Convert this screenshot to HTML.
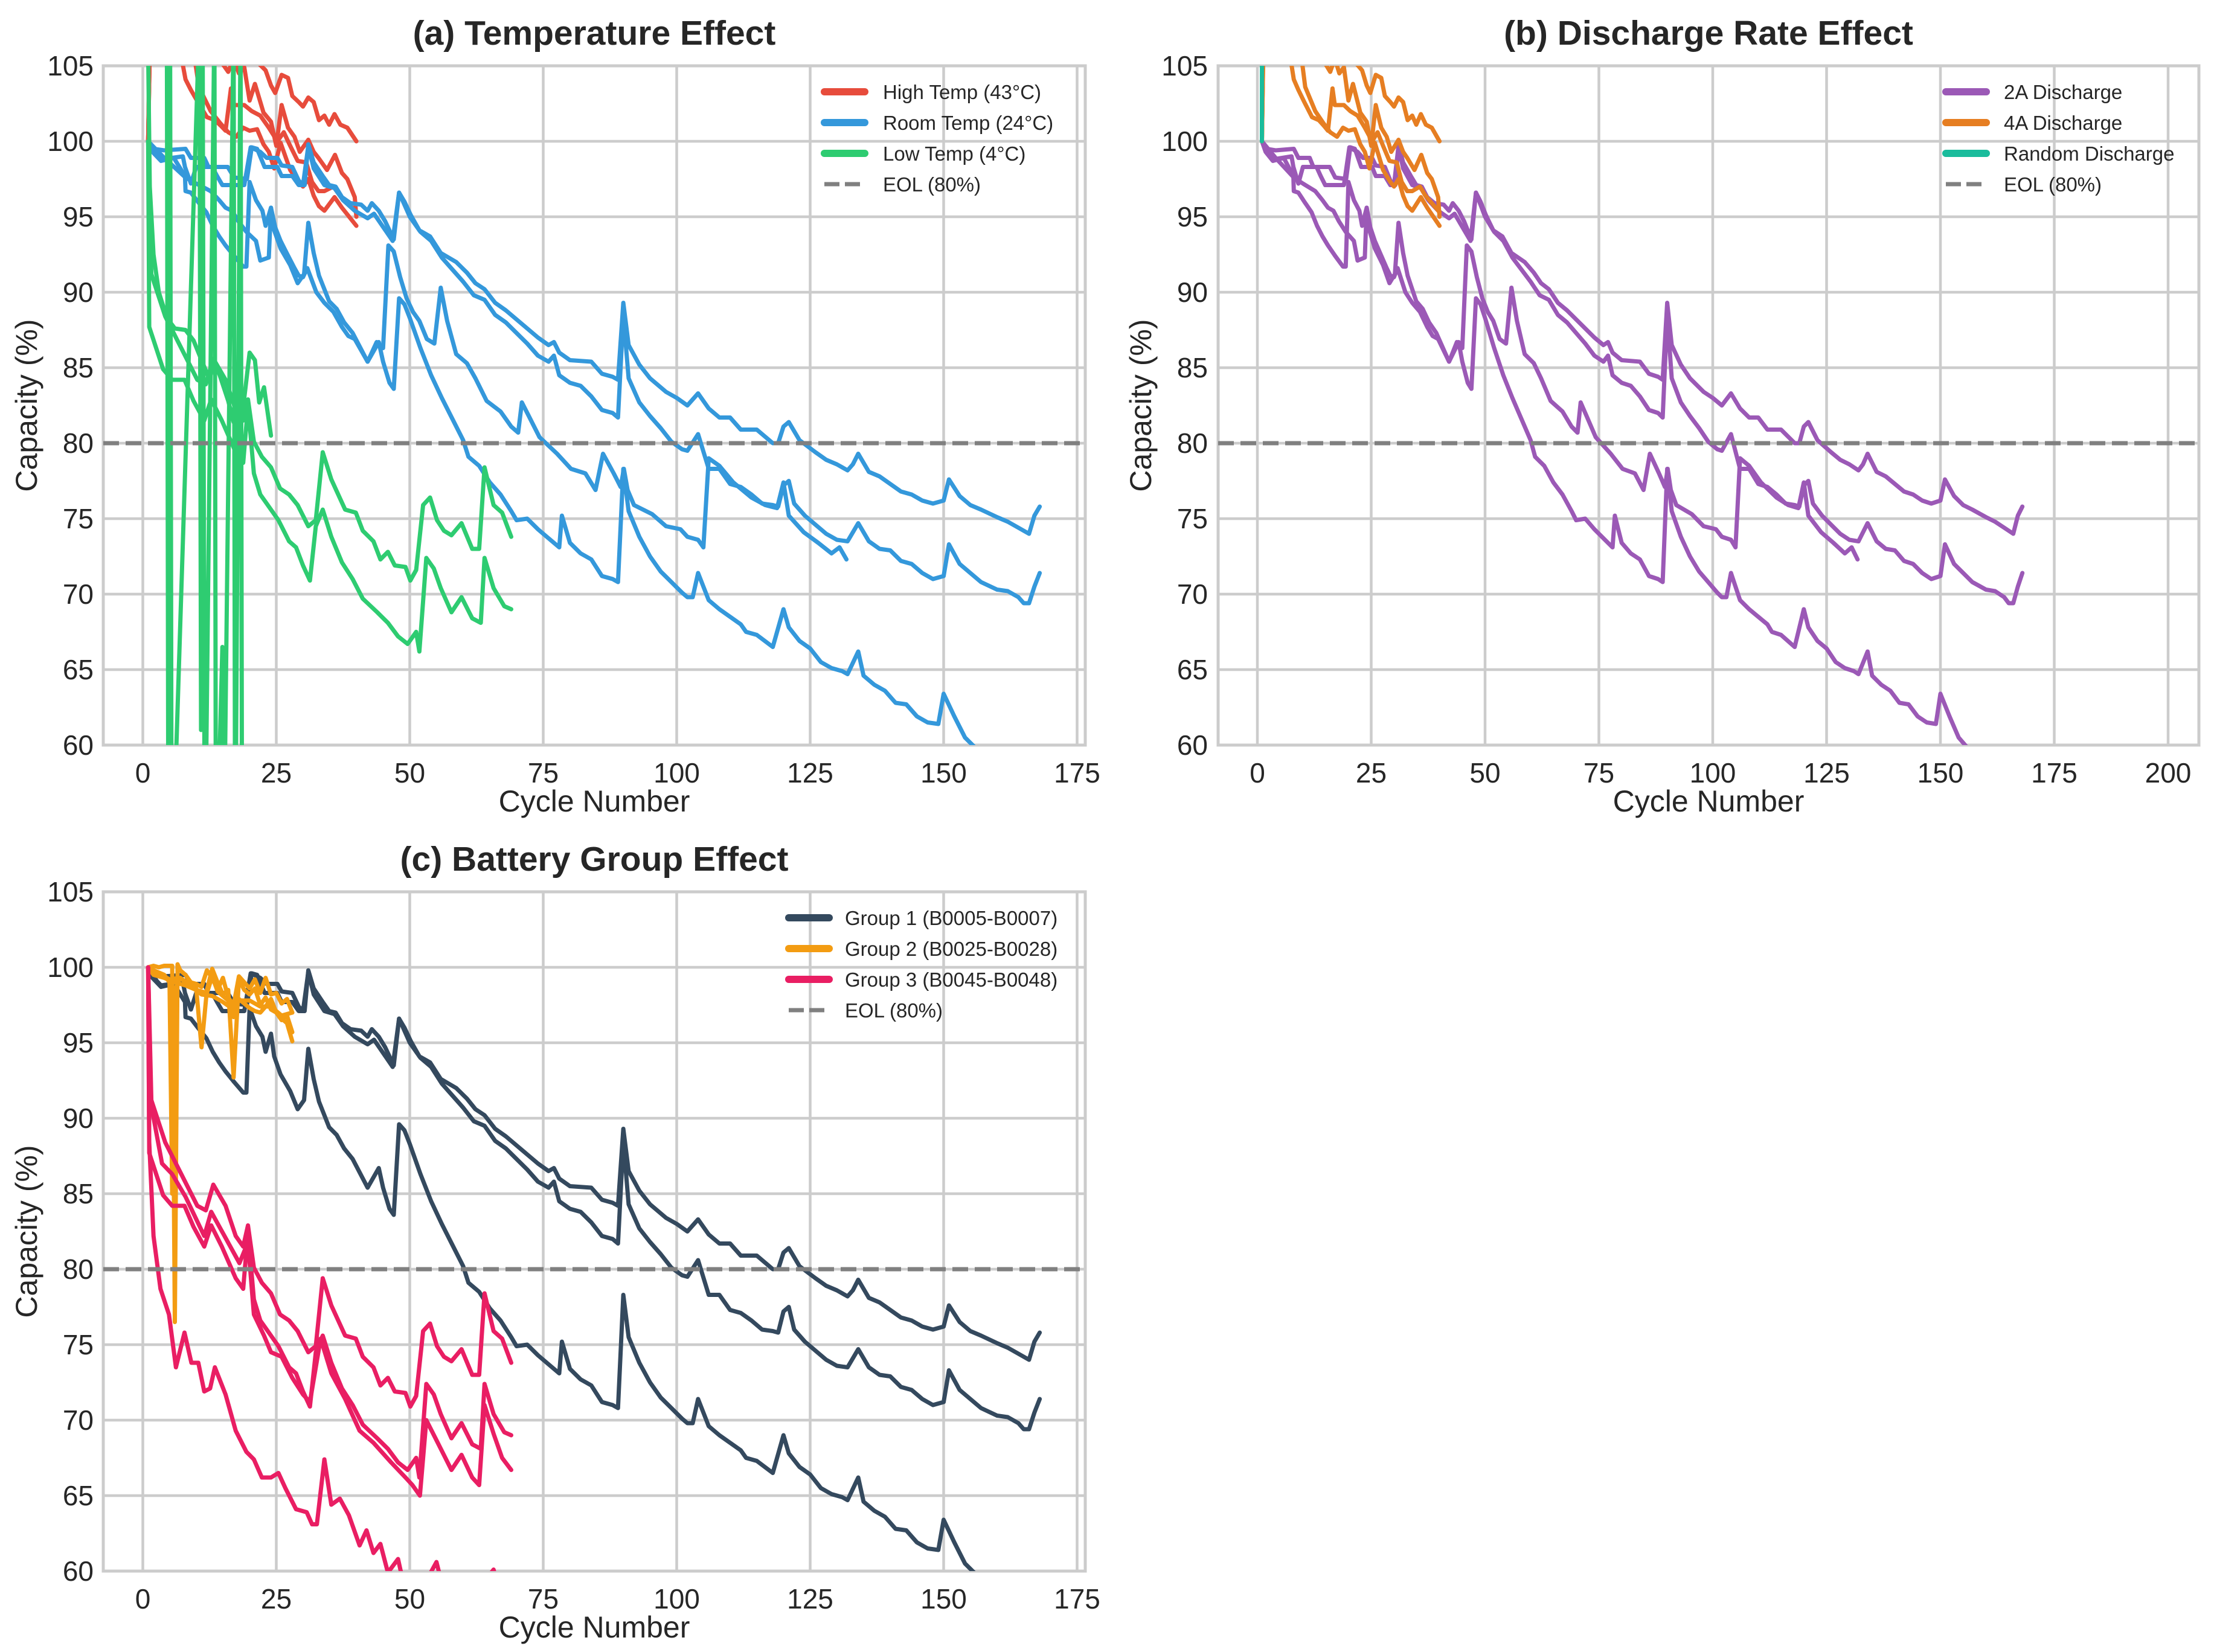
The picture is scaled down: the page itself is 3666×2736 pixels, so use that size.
<!DOCTYPE html>
<html><head><meta charset="utf-8"><style>
html,body{margin:0;padding:0;background:#fff;}
svg{display:block;font-family:"Liberation Sans",sans-serif;}
</style></head><body>
<svg id="fig" width="3666" height="2736" viewBox="0 0 3666 2736" xmlns="http://www.w3.org/2000/svg"></svg>
<script>
// ---- data: [cycle, capacity %] pairs ----
const roomA=[[1,100],[2,99.5],[4,99.4],[8,99.5],[9,98.9],[11.5,98.9],[12.3,98.3],[15.9,98.3],[17.1,97.6],[19.5,97.5],[20.4,99.6],[21.4,99.5],[22.8,98.3],[25.2,98.3],[26,97.7],[28,97.7],[29.2,97.1],[30.3,97.1],[31,99.8],[32,98.6],[33.7,97.7],[34.9,97.1],[36.1,97],[37.3,96.3],[38.9,95.9],[40.9,95.8],[42.1,95.4],[42.9,95.9],[44.2,95.4],[45.4,94.7],[47,93.5],[48,96.6],[49,96],[50.2,95.1],[51.8,94.1],[53.8,93.7],[55.8,92.6],[58.7,92],[60.7,91.3],[62.3,90.6],[64,90.2],[66,89.3],[68,88.8],[70,88.2],[72,87.6],[74,87],[76,86.5],[77,86.7],[78,86],[80,85.5],[84,85.4],[86,84.6],[88,84.4],[89,84.2],[90,89.3],[91,86.5],[93,85.2],[95,84.3],[98,83.4],[100,83],[102,82.5],[104,83.3],[106,82.3],[108,81.7],[110,81.7],[112,80.9],[115,80.9],[118,80],[119,80],[120,81.1],[121,81.4],[123,80.2],[126,79.4],[128,78.9],[130,78.6],[132,78.2],[133,78.6],[134,79.3],[136,78.1],[138,77.8],[140,77.3],[142,76.8],[144,76.6],[146,76.2],[148,76],[150,76.2],[151,77.6],[153,76.5],[155,75.9],[157,75.6],[160,75.1],[162,74.8],[164,74.4],[166,74],[167,75.2],[168,75.8]];
const roomB=[[1,100],[2.6,99.1],[3.4,98.8],[7.5,99],[7.9,98.3],[9,97.2],[10,98.3],[13,98.3],[13.9,97.7],[14.9,97.1],[19,97.1],[20.2,99.6],[22,99.3],[23.2,98.9],[25.2,98.9],[26,98.4],[28,98.3],[29.2,97.4],[30,97.1],[31,99.7],[32,98.2],[34,97.1],[35.9,96.9],[37.5,96.1],[39.7,95.4],[42.1,94.9],[43.3,95.2],[46.8,93.4],[48,96.6],[50,95],[52,94],[54,93.4],[56,92.3],[58,91.5],[60,90.7],[62,89.8],[64,89.5],[66,88.5],[68,88],[70,87.3],[72,86.6],[74,85.8],[76,85.4],[77,85.8],[78,84.5],[80,84],[82,83.8],[84,83.1],[86,82.2],[88,82],[89,81.7],[90,88.5],[91,84.3],[93,82.7],[95,81.8],[97,81],[99,80.1],[101,79.6],[102,79.5],[104,80.6],[106,78.3],[108,78.3],[110,77.3],[112,77.1],[114,76.6],[116,76],[118,75.9],[119,75.8],[120,77.2],[121,77.5],[122,76],[124,75.2],[126,74.6],[128,74],[130,73.6],[132,73.5],[134,74.7],[136,73.5],[138,73],[140,72.9],[142,72.2],[144,72],[146,71.4],[148,71],[150,71.2],[151,73.3],[153,72],[155,71.4],[157,70.8],[160,70.3],[162,70.2],[164,69.8],[165,69.4],[166,69.4],[167,70.5],[168,71.4]];
const roomC=[[1,100],[1.8,99.3],[3.4,98.7],[5.8,98.9],[7.9,97.7],[8,96.7],[9,96.6],[10.3,96],[11.9,95.3],[13.1,94.4],[14.3,93.7],[15.5,93.1],[17.1,92.4],[18.8,91.7],[19.4,91.7],[20,97.3],[21.2,96.1],[22.4,95.4],[23,94.4],[24,95.6],[24.6,94.1],[25.8,92.9],[27.6,91.8],[29,90.6],[30.2,91.2],[31,94.6],[32,92.6],[33,91.1],[34.9,89.4],[36.3,88.9],[37.7,88],[39.3,87.3],[42.1,85.4],[44.2,86.7],[45,85.4],[46.2,84],[47,83.6],[48,89.6],[49,89.2],[50,88.3],[52,86.3],[54,84.5],[56,83],[58,81.6],[60,80.2],[61,79.1],[63,78.5],[65,77.4],[67,76.6],[69,75.5],[70,74.9],[72,75],[74,74.3],[76,73.7],[78,73.1],[78.5,75.2],[80,73.4],[82,72.7],[84,72.3],[86,71.2],[88,71],[89,70.8],[90,78.3],[91,75.5],[93,73.8],[95,72.5],[97,71.5],[99,70.8],[101,70.1],[102,69.8],[103,69.8],[104,71.4],[106,69.6],[108,69],[110,68.5],[112,68],[113,67.5],[115,67.3],[118,66.5],[120,69],[121,67.8],[123,66.9],[125,66.4],[127,65.5],[129,65.1],[131,64.9],[132,64.7],[134,66.2],[135,64.6],[137,64],[139,63.6],[141,62.8],[143,62.7],[145,61.9],[147,61.5],[149,61.4],[150,63.4],[152,61.9],[154,60.5],[156,59.8],[158,59]];
const roomD=[[1,100],[4,98.9],[8,97.6],[10,97.2],[12.7,96.7],[14.3,96.1],[15.5,95.6],[16.7,95.4],[17.9,94.7],[19.4,94],[21.2,93.4],[22,92.1],[23.6,92.3],[24,95.6],[24.8,94.3],[25.8,93.4],[26.8,92.7],[28.4,91.6],[29.2,91.1],[30,91],[30.8,91.6],[32.5,90],[34,89.3],[35.7,88.7],[37.3,87.7],[38.5,87.1],[39.7,86.9],[42.1,85.4],[43.8,86.7],[45,86.3],[46,93.1],[47,92.7],[48.2,91],[49.4,89.6],[50.6,88.7],[51.8,88.1],[53.2,86.9],[54.6,86.6],[55.8,90.3],[57,88.1],[58.7,85.9],[60.7,85.3],[62.3,84.3],[64.4,82.8],[67,82.1],[69,81.1],[70.3,80.7],[71,82.7],[72.3,81.8],[74.3,80.4],[77.6,79.3],[80.2,78.3],[82.9,78],[84.8,76.9],[86.2,79.3],[88.2,78],[89.5,77.1],[90.1,78.3],[90.8,76.9],[92,75.9],[95.4,75.3],[98,74.5],[100.7,74.3],[102,73.8],[104,73.6],[105,73.1],[106,79],[108,78.5],[110.6,77.4],[114,76.4],[116.6,75.9],[118.8,75.7],[120,77.4],[121,75.2],[123.8,74.1],[126.5,73.4],[129,72.7],[130.5,73.1],[131.8,72.3]];
const highR1=[[1,100],[1.5,112],[15,108],[18,106.5],[21,105.4],[23,104.7],[24,103.7],[24.8,103.2],[26,104.4],[27.2,104.2],[28,103],[29.2,102.6],[30,102.3],[31,102.9],[32,102.6],[33,101.4],[34,101.7],[34.9,101.1],[35.9,101.8],[37,101.1],[38.3,100.9],[40,100]];
const highR2=[[1,100],[1.5,111],[12,107],[14,105.6],[16,104.6],[17,105.5],[18,104.5],[19,104.9],[20,102.7],[21,103.8],[22.6,101.9],[24,101.3],[25,99.7],[26,102.4],[27.2,100.9],[28.4,100.3],[29.4,99.3],[31,100.1],[32,99.3],[32.9,98.9],[34.5,98.1],[36,99.1],[37.3,97.9],[38.3,97.5],[39.7,96.3],[40,95]];
const highR3=[[1,100],[1.5,110],[9.5,106],[10.5,103.6],[12.7,102],[14.5,101.2],[16,100.6],[17.5,100.3],[18.8,100.9],[20,100.7],[21.4,100.8],[22.6,99.8],[23.6,99.3],[24.6,98.2],[25.8,99.9],[26.8,98.9],[27.6,98.1],[29.2,97.3],[30,97],[31,97.5],[32,96.4],[33,95.7],[34,95.4],[35.9,96.3],[37.3,95.6],[40,94.4]];
const highR4=[[1,100],[1.5,110],[7,106],[8,104.1],[9,103.4],[10.3,102.6],[12,101.6],[13.5,101.4],[14.7,101],[15.5,100.7],[16.5,103.5],[17,102.4],[19,102.4],[20.4,102],[22,101.7],[23.6,100.9],[25.2,100],[26.4,100.6],[27.6,99.7],[29,98.7],[30.6,98.6],[31.7,97.3],[32.9,96.7],[34,96.7],[35.7,97],[36.9,96.4],[40,95.3]];
const lowG1=[[1,100],[1.6,91.2],[2.9,89.8],[4.2,88.4],[6.2,87],[8.2,85.6],[10.2,84.2],[11.8,83.9],[13.2,85.6],[15.5,84.2],[17.4,82.2],[18.8,81.5],[19.7,82.9],[20.8,80.1],[22.3,79.1],[24,78.4],[25.7,77],[27.4,76.6],[29,75.9],[31,74.5],[32.4,74.9],[33.7,79.4],[35.3,77.6],[37.9,75.6],[39.9,75.4],[41.2,74.2],[43.2,73.5],[44.5,72.3],[45.9,72.8],[47.2,71.9],[49.2,71.8],[50.1,70.9],[51.2,71.6],[52.5,75.9],[53.8,76.4],[55.1,74.9],[56.4,74.2],[57.8,73.9],[59.7,74.7],[61.7,73],[63,73],[64,78.4],[65.7,75.9],[67.3,75.4],[69,73.8]];
const lowG2=[[1,100],[1.2,87.7],[2.5,86.3],[3.8,84.9],[5.5,84.2],[7.8,84.2],[9.5,82.8],[11.5,81.5],[12.8,82.9],[14.8,81.5],[17.4,79.4],[18.8,78.7],[19.7,82.5],[20.8,78],[22,76.6],[23.4,75.9],[25.4,74.9],[27.4,73.5],[28.7,73.1],[30,71.9],[31.3,70.9],[32.4,74.5],[33.7,75.6],[35.3,73.8],[37.3,72.1],[39.3,71],[41.2,69.7],[43.9,68.8],[45.9,68.1],[47.8,67.2],[49.6,66.7],[51.2,67.5],[51.8,66.2],[53.1,72.4],[54.5,71.7],[55.8,70.4],[57.8,68.8],[59.7,69.8],[61.7,68.4],[63.3,68.1],[64,72.4],[65.7,70.4],[67.7,69.2],[69,69]];
const lowG3=[[1,106],[1.3,97],[2,92.5],[3,90],[4.5,88.3],[6,87.6],[8,87.5],[9.5,86.8],[11,85.5],[12.5,84.2],[13.3,85.6],[14.5,84.4],[16,82.8],[17,81.4],[18,80.9],[19,83],[20,86],[21,85.5],[21.8,82.7],[22.7,83.7],[24,80.5]];
const lowG4=[[4.5,108],[4.8,50],[5.1,108],[5.4,50],[10.6,108],[10.9,61],[11.2,108],[11.6,50],[13.4,108],[13.7,50],[14.9,66.5],[15.1,50],[17,108],[17.3,50],[18.3,108],[18.6,50]];
const grp3D=[[1,100],[1.2,88.4],[2,82.2],[3.3,78.7],[4.9,77],[6.2,73.5],[7.8,75.8],[9.1,73.8],[10.4,73.8],[11.5,71.9],[12.6,72.1],[13.5,73.5],[15.5,71.7],[17.4,69.3],[19.4,67.9],[20.8,67.4],[22.3,66.2],[24,66.2],[25.4,66.5],[26.7,65.5],[28.7,64.1],[30.7,63.9],[31.7,63.1],[32.6,63.1],[34,67.4],[35.3,64.4],[36.9,64.8],[38.6,63.7],[40.6,61.7],[41.9,62.7],[43.2,61.2],[44.5,61.8],[45.9,59.9],[47.8,60.8],[48.5,59.7],[50,59],[53,59.3],[55,60.6],[56,59.2],[64,59.3],[65.7,60.1],[66.5,59]];
const grp3C=[[1,100],[1.5,91],[3.6,87],[5.5,86.3],[8,84.8],[11.5,82.2],[12.8,83.8],[18.1,80.4],[19.7,81.8],[20.8,77],[22.7,75.6],[24,74.5],[26,74.2],[28,72.8],[30,71.7],[31.3,71.2],[33.3,75.4],[35.3,73.1],[37.9,71.4],[40.6,69.3],[43.2,68.5],[46.5,67.2],[49.2,66.2],[50.5,65.7],[51.9,65],[53.1,70],[55.1,68.6],[57.8,66.7],[59.7,67.7],[61.7,66.2],[63,65.7],[64,71],[65.7,69.1],[67.3,67.5],[69,66.7]];
const grp2A=[[1,100],[2,100.1],[3,100],[4,100.1],[5.5,100.1],[6,76.5],[6.5,100.2],[7,99.8],[8,99.5],[9,99],[10,98.9],[11,98.7],[12,99.8],[13,99.3],[14,98.5],[15,99.3],[16,98],[17,97.5],[18,99.4],[19,99],[20,98.6],[21,99.2],[22,98.3],[23,99.3],[24,98.2],[25,98.3],[26,97.6],[27,97.9],[28,97]];
const grp2B=[[1,100],[2,99.8],[4,99.5],[5,99],[5.5,85],[6,98.5],[7,99.3],[8,99],[10,98.6],[11,94.7],[12,98.5],[13,99.9],[14,99],[15,98.2],[16,98.5],[17,92.7],[18,99.2],[19,98.5],[20,98.2],[21,98.6],[22,97.5],[23,98],[24,97.2],[25,97],[26,96.5],[27,96.8],[28,95.7]];
const grp2C=[[1,100],[2,99.5],[4,99.3],[6,99],[8,98.8],[10,98.5],[12,98.3],[13,99.4],[14,98.4],[16,97.8],[17,96.7],[18,97.9],[19,97.6],[20,97.3],[21,97.1],[22,97],[23,97.4],[24,97.9],[25,97],[26,96.6],[27,96.3],[28,95.1]];
const grp2D=[[1,100],[3,99.6],[5,99.2],[7,99.3],[9,98.8],[11,98.2],[13,98.1],[15,97.7],[17,97.2],[18,97.8],[20,97.8],[22,97.4],[24,97.4],[26,96.8],[28,97]];
const randomT=[[1,100],[1.05,130],[2,140]];
const yTicks=[60,65,70,75,80,85,90,95,100,105];
const xTicksAC=[0,25,50,75,100,125,150,175];
const xTicksB=[0,25,50,75,100,125,150,175,200];
const eolValue=80;

const NS='http://www.w3.org/2000/svg';
const svg=document.getElementById('fig');
function el(tag,attrs,parent){const e=document.createElementNS(NS,tag);for(const k in attrs)e.setAttribute(k,attrs[k]);(parent||svg).appendChild(e);return e;}

const panels=[
 {id:'a',title:'(a) Temperature Effect',x0:236.5,kx:8.84,left:171,right:1797,top:109,cmax:176,ticks:xTicksAC,labelX:984,yLab:44,tickRight:155,
  legend:{lx:1359,tx:1462,y:152},
  series:[{n:'high-temp',c:'#e74c3c',d:[highR1,highR2,highR3,highR4]},{n:'room-temp',c:'#3498db',d:[roomA,roomB,roomC,roomD]},{n:'low-temp',c:'#2ecc71',d:[lowG1,lowG2,lowG3,lowG4]}],
  leg:[['High Temp (43°C)','#e74c3c'],['Room Temp (24°C)','#3498db'],['Low Temp (4°C)','#2ecc71']]},
 {id:'b',title:'(b) Discharge Rate Effect',x0:2082,kx:7.54,left:2017,right:3641,top:109,cmax:207,ticks:xTicksB,labelX:2829,yLab:1889,tickRight:2000,
  legend:{lx:3216,tx:3318,y:152},
  series:[{n:'2a-discharge',c:'#9b59b6',d:[roomA,roomB,roomC,roomD]},{n:'4a-discharge',c:'#e67e22',d:[highR1,highR2,highR3,highR4]},{n:'random-discharge',c:'#1abc9c',d:[randomT]}],
  leg:[['2A Discharge','#9b59b6'],['4A Discharge','#e67e22'],['Random Discharge','#1abc9c']]},
 {id:'c',title:'(c) Battery Group Effect',x0:236.5,kx:8.84,left:171,right:1797,top:1477,cmax:176,ticks:xTicksAC,labelX:984,yLab:44,tickRight:155,
  legend:{lx:1300,tx:1399,y:1520},
  series:[{n:'group-1',c:'#34495e',d:[roomA,roomB,roomC]},{n:'group-2',c:'#f39c12',d:[grp2A,grp2B,grp2C,grp2D]},{n:'group-3',c:'#e91e63',d:[lowG1,lowG2,grp3C,grp3D]}],
  leg:[['Group 1 (B0005-B0007)','#34495e'],['Group 2 (B0025-B0028)','#f39c12'],['Group 3 (B0045-B0048)','#e91e63']]}
];

panels.forEach(p=>{
  const ky=25, bottom=p.top+45*ky;
  const X=c=>p.x0+c*p.kx, Y=v=>p.top+(105-v)*ky;
  const g=el('g',{});
  
  
  const cp=el('clipPath',{id:'clip-'+p.id},g);
  el('rect',{x:p.left,y:p.top,width:p.right-p.left,height:bottom-p.top},cp);
  yTicks.forEach(v=>{const l=el('line',{x1:p.left,x2:p.right,y1:Y(v),y2:Y(v),stroke:'#cccccc','stroke-width':4.5},g);
    
    
    const t=el('text',{x:p.tickRight,y:Y(v)+16,'text-anchor':'end','font-size':46,fill:'#262626'},g);t.textContent=v;
    
    });
  p.ticks.forEach(c=>{const l=el('line',{x1:X(c),x2:X(c),y1:p.top,y2:bottom,stroke:'#cccccc','stroke-width':4.5},g);
    
    
    const t=el('text',{x:X(c),y:bottom+62,'text-anchor':'middle','font-size':46,fill:'#262626'},g);t.textContent=c;
    
    });
  const fr=el('rect',{x:p.left,y:p.top,width:p.right-p.left,height:bottom-p.top,fill:'none',stroke:'#cccccc','stroke-width':5},g);
  
  
  const sg=el('g',{'clip-path':'url(#clip-'+p.id+')'},g);
  p.series.forEach(s=>{s.d.forEach((arr,i)=>{
    const pl=el('polyline',{points:arr.map(q=>X(q[0]).toFixed(1)+','+Y(q[1]).toFixed(1)).join(' '),fill:'none',stroke:s.c,'stroke-width':7,'stroke-linejoin':'round','stroke-linecap':'round'},sg);
    
    
  });});
  const eol=el('line',{x1:p.left,x2:p.right,y1:Y(eolValue),y2:Y(eolValue),stroke:'#808080','stroke-width':7,'stroke-dasharray':'26 11'},g);
  
  
  const tt=el('text',{x:p.labelX,y:p.top-35,'text-anchor':'middle','font-size':57,'font-weight':'bold',fill:'#262626'},g);tt.textContent=p.title;
  
  
  const xl=el('text',{x:p.labelX,y:bottom+110,'text-anchor':'middle','font-size':50,fill:'#262626'},g);xl.textContent='Cycle Number';
  
  
  const cy=(p.top+bottom)/2;
  const yl=el('text',{x:p.yLab,y:cy,'text-anchor':'middle','font-size':50,fill:'#262626',transform:'rotate(-90 '+(p.yLab)+' '+cy+')','dominant-baseline':'central'},g);yl.textContent='Capacity (%)';
  
  
  const lg=el('g',{},g);
  
  
  const items=p.leg.concat([['EOL (80%)','#808080']]);
  items.forEach((it,i)=>{const yy=p.legend.y+i*51;
    const ln=el('line',{x1:p.legend.lx+6,x2:p.legend.lx+73,y1:yy,y2:yy,stroke:it[1],'stroke-width':i==3?7:12,'stroke-linecap':i==3?'butt':'round','stroke-dasharray':i==3?'25 9':'none'},lg);
    
    
    const tx=el('text',{x:p.legend.tx,y:yy+12,'font-size':33,fill:'#262626'},lg);tx.textContent=it[0];
    
    });
});
</script>
</body></html>
